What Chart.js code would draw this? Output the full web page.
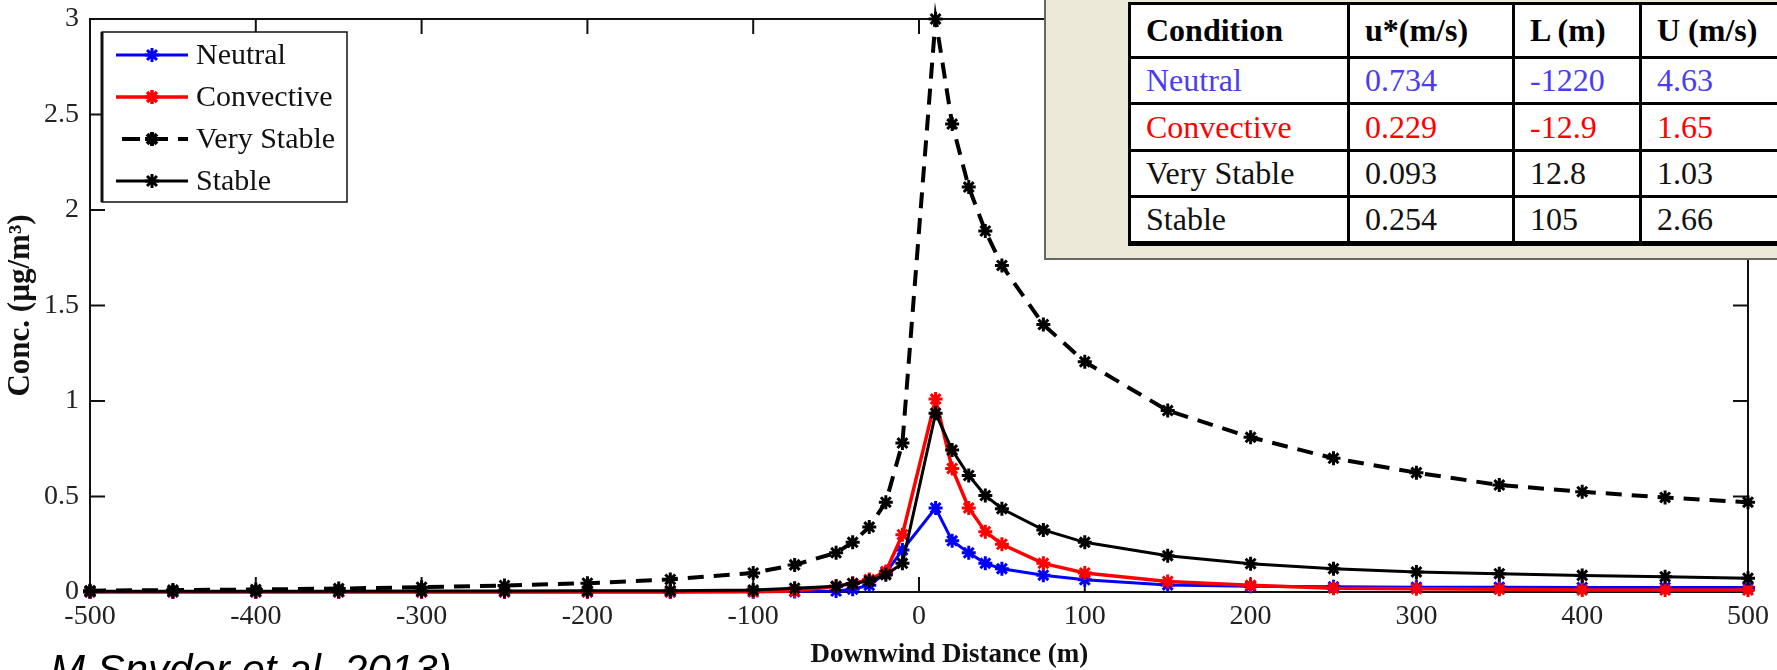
<!DOCTYPE html>
<html>
<head>
<meta charset="utf-8">
<script src="https://cdn.jsdelivr.net/npm/chart.js@4.4.1/dist/chart.umd.min.js"></script>
<style>
  html, body { margin: 0; padding: 0; background: #fff; overflow: hidden; }
  #wrap { position: relative; width: 1777px; height: 670px; overflow: hidden; }
  #panel { position: absolute; left: 1044px; top: -4px; width: 800px; height: 264px;
           background: #ECE9D8; border: 2px solid #666; box-sizing: border-box; }
  #panel table { position: absolute; left: 82px; top: 4px; border-collapse: collapse;
           table-layout: fixed; font-family: 'Liberation Serif', 'Times New Roman', serif;
           font-size: 32px; background: #fff; }
  #panel td, #panel th { border: 3px solid #000; padding: 0 0 0 15px; text-align: left;
           white-space: nowrap; overflow: hidden; }
  #panel tr.last td { border-bottom-width: 5px; }
  #cite { position: absolute; left: 50px; top: 649px; font-family: 'Liberation Sans', Arial, sans-serif;
          font-style: italic; font-size: 42px; line-height: 42px; color: #000; white-space: nowrap; }
</style>
</head>
<body>
<div id="wrap">
  <canvas id="myChart" width="1777" height="670"></canvas>
  <div id="panel"><table id="condTable"></table></div>
  <div id="cite">M Snyder et al. 2013)</div>
</div>
<script>
// downwind distance (m)
const distances = [-500, -450, -400, -350, -300, -250, -200, -150, -100, -75, -50, -40, -30, -20, -10,
                   10, 20, 30, 40, 50, 75, 100, 150, 200, 250, 300, 350, 400, 450, 500]

// concentrations (ug/m3)
const neutral = [0.0, 0.0, 0.0, 0.0, 0.0, 0.0, 0.0, 0.0, 0.001, 0.002, 0.005, 0.015, 0.035, 0.1, 0.22,
                 0.44, 0.268, 0.205, 0.15, 0.122, 0.088, 0.064, 0.037, 0.03, 0.027, 0.025, 0.025, 0.024, 0.024, 0.023]
const convective = [0.001, 0.001, 0.001, 0.001, 0.001, 0.001, 0.001, 0.001, 0.002, 0.005, 0.03, 0.045, 0.065, 0.107, 0.30,
                    1.01, 0.647, 0.44, 0.316, 0.25, 0.15, 0.10, 0.055, 0.035, 0.02, 0.017, 0.014, 0.011, 0.01, 0.01]
const veryStable = [0.007, 0.01, 0.013, 0.018, 0.025, 0.034, 0.046, 0.066, 0.10, 0.142, 0.205, 0.26, 0.34, 0.47, 0.78,
                    3.0, 2.45, 2.12, 1.89, 1.71, 1.40, 1.205, 0.95, 0.81, 0.70, 0.625, 0.56, 0.525, 0.495, 0.47]
const stable = [0.004, 0.004, 0.004, 0.004, 0.005, 0.005, 0.006, 0.007, 0.01, 0.02, 0.03, 0.045, 0.058, 0.09, 0.15,
                0.936, 0.743, 0.61, 0.505, 0.436, 0.325, 0.26, 0.19, 0.148, 0.122, 0.105, 0.096, 0.087, 0.08, 0.072]

const xTicks = [-500, -400, -300, -200, -100, 0, 100, 200, 300, 400, 500]
const yTicks = [0, 0.5, 1, 1.5, 2, 2.5, 3]

// inset table
const tableHeader = ['Condition', 'u*(m/s)', 'L (m)', 'U (m/s)']
const tableConditions = ['Neutral', 'Convective', 'Very Stable', 'Stable']
const tableUStar = ['0.734', '0.229', '0.093', '0.254']
const tableL = ['-1220', '-12.9', '12.8', '105']
const tableU = ['4.63', '1.65', '1.03', '2.66']
const tableColors = ['#4b3cf0', '#ff0000', '#111', '#111']

function buildTable() {
    let colW = [219, 165, 127, 160]
    let rowH = [54, 46, 47, 46, 47]
    let html = '<colgroup>' + colW.map(w => `<col style="width:${w}px">`).join('') + '</colgroup>'
    html += `<tr style="height:${rowH[0]}px">` + tableHeader.map(h => `<th>${h}</th>`).join('') + '</tr>'
    for (let i = 0; i < tableConditions.length; i++) {
        let cls = i == tableConditions.length - 1 ? ' class="last"' : ''
        let c = tableColors[i]
        html += `<tr${cls} style="height:${rowH[i + 1]}px;color:${c}">` +
            [tableConditions[i], tableUStar[i], tableL[i], tableU[i]].map(v => `<td>${v}</td>`).join('') + '</tr>'
    }
    document.getElementById('condTable').innerHTML = html
}
buildTable()

function toPoints(ys) {
    return distances.map((d, i) => ({x: d, y: ys[i]}))
}

// matlab style box with inward ticks
const matlabBox = {
    id: 'matlabBox',
    beforeDatasetsDraw(chart) {
        let ctx = chart.ctx
        let a = chart.chartArea
        let len = 15
        ctx.save()
        ctx.strokeStyle = '#111'
        ctx.lineWidth = 2
        ctx.strokeRect(a.left, a.top, a.right - a.left, a.bottom - a.top)
        ctx.beginPath()
        chart.scales.x.ticks.forEach(t => {
            let px = chart.scales.x.getPixelForValue(t.value)
            ctx.moveTo(px, a.bottom); ctx.lineTo(px, a.bottom - len)
            ctx.moveTo(px, a.top); ctx.lineTo(px, a.top + len)
        })
        chart.scales.y.ticks.forEach(t => {
            let py = chart.scales.y.getPixelForValue(t.value)
            ctx.moveTo(a.left, py); ctx.lineTo(a.left + len, py)
            ctx.moveTo(a.right, py); ctx.lineTo(a.right - len, py)
        })
        ctx.stroke()
        ctx.restore()
    }
}

// legend drawn inside the axes, upper left
const insideLegend = {
    id: 'insideLegend',
    afterDraw(chart) {
        let ctx = chart.ctx
        let a = chart.chartArea
        let bx = a.left + 12, by = a.top + 13, bw = 245, bh = 170
        ctx.save()
        ctx.fillStyle = '#fff'
        ctx.fillRect(bx, by, bw, bh)
        ctx.strokeStyle = '#111'
        ctx.lineWidth = 1.5
        ctx.strokeRect(bx, by, bw, bh)
        ctx.lineWidth = 3
        ctx.beginPath(); ctx.moveTo(bx, by); ctx.lineTo(bx, by + bh); ctx.stroke()
        ctx.font = "30px 'Liberation Serif'"
        ctx.textBaseline = 'middle'
        chart.data.datasets.forEach((ds, i) => {
            let y = by + 23 + i * 42
            ctx.strokeStyle = ds.borderColor
            ctx.lineWidth = ds.borderWidth
            ctx.setLineDash(ds.borderDash ? [18, 10] : [])
            ctx.beginPath()
            if (ds.borderDash) { ctx.moveTo(bx + 20, y); ctx.lineTo(bx + 86, y) }
            else { ctx.moveTo(bx + 14, y); ctx.lineTo(bx + 86, y) }
            ctx.stroke()
            ctx.setLineDash([])
            Chart.helpers.drawPoint(ctx, {pointStyle: 'star', radius: 7, borderWidth: 3, rotation: 0}, bx + 50, y)
            ctx.fillStyle = '#111'
            ctx.fillText(ds.label, bx + 94, y + 1)
        })
        ctx.restore()
    }
}

Chart.defaults.font.family = "'Liberation Serif', 'Times New Roman', serif"
Chart.defaults.color = '#222'

function noPad(s) {
    s.paddingTop = 0; s.paddingBottom = 0; s.paddingLeft = 0; s.paddingRight = 0
}

let ctx = document.getElementById('myChart').getContext('2d')
let chart = new Chart(ctx, {
    type: 'line',
    data: {
        datasets: [
            {label: 'Neutral', data: toPoints(neutral), borderColor: '#0000ff', borderWidth: 3, order: 4},
            {label: 'Convective', data: toPoints(convective), borderColor: '#ff0000', borderWidth: 3.5, order: 3},
            {label: 'Very Stable', data: toPoints(veryStable), borderColor: '#000', borderWidth: 4, borderDash: [16, 10], order: 2},
            {label: 'Stable', data: toPoints(stable), borderColor: '#000', borderWidth: 3, order: 1}
        ].map(ds => Object.assign(ds, {
            pointStyle: 'star', pointRadius: 7, pointBorderWidth: 3,
            pointBorderColor: ds.borderColor, pointBackgroundColor: ds.borderColor,
            tension: 0, fill: false, clip: false
        }))
    },
    options: {
        responsive: false,
        animation: false,
        devicePixelRatio: 1,
        layout: {padding: {top: 19, right: 29, left: 0, bottom: 0}},
        plugins: {legend: {display: false}, tooltip: {enabled: false}},
        scales: {
            x: {
                type: 'linear', min: -500, max: 500,
                afterBuildTicks: s => { s.ticks = xTicks.map(v => ({value: v})) },
                afterFit: s => { s.height = 78; noPad(s) },
                grid: {display: false, drawTicks: false},
                border: {display: false},
                ticks: {font: {size: 28}, padding: 8, maxRotation: 0, callback: v => String(v)},
                title: {display: true, text: '         Downwind Distance (m)',
                        font: {size: 27, weight: 'bold', lineHeight: 1}, color: '#111', padding: {top: 0, bottom: 1}}
            },
            y: {
                min: 0, max: 3,
                afterBuildTicks: s => { s.ticks = yTicks.map(v => ({value: v})) },
                afterFit: s => { s.width = 90; noPad(s) },
                grid: {display: false, drawTicks: false},
                border: {display: false},
                ticks: {font: {size: 28}, padding: 11, callback: v => String(v)},
                title: {display: true, text: 'Conc. (µg/m³)', font: {size: 31, weight: 'bold', lineHeight: 1}, color: '#111', padding: {top: 5, bottom: 0}}
            }
        }
    },
    plugins: [matlabBox, insideLegend]
})
</script>
</body>
</html>
